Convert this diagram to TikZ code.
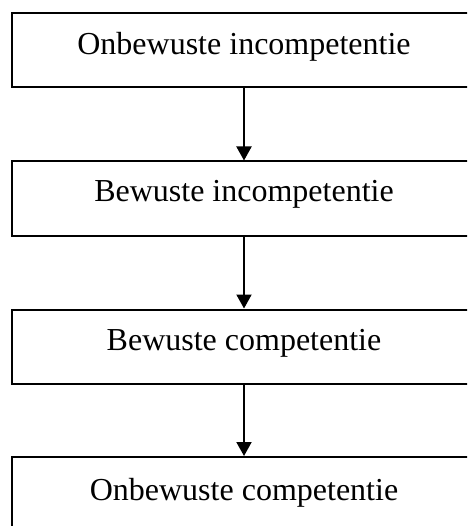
\documentclass[tikz,border=0pt]{standalone}
\usepackage{fontspec}
\setmainfont{Liberation Serif}
\usetikzlibrary{arrows.meta}
\tikzset{
  stagebox/.style={draw=black, line width=2pt, rectangle, minimum width=464pt, minimum height=74pt, inner sep=0pt},
  stagelabel/.style={anchor=base, inner sep=0pt, font=\fontsize{32}{38}\selectfont},
  flow/.style={line width=2pt, -{Triangle[width=15pt,length=14pt]}}
}
\begin{document}
\begin{tikzpicture}[x=1pt,y=-1pt]
  \useasboundingbox (0,0) rectangle (467,526);
  \clip (0,0) rectangle (467,526);
  % stage boxes
  \node[stagebox] (s1) at (244,50) {};
  \node[stagebox] (s2) at (244,198.5) {};
  \node[stagebox] (s3) at (244,346.5) {};
  \node[stagebox] (s4) at (244,494) {};
  % labels
  \node[stagelabel] (t1) at (244,55) {Onbewuste incompetentie};
  \node[stagelabel] (t2) at (244,202) {Bewuste incompetentie};
  \node[stagelabel] (t3) at (244,350) {Bewuste competentie};
  \node[stagelabel] (t4) at (244,500) {Onbewuste competentie};
  % transitions
  \draw[flow] (s1.south) -- (s2.north);
  \draw[flow] (s2.south) -- (s3.north);
  \draw[flow] (s3.south) -- (s4.north);
\end{tikzpicture}
\end{document}
